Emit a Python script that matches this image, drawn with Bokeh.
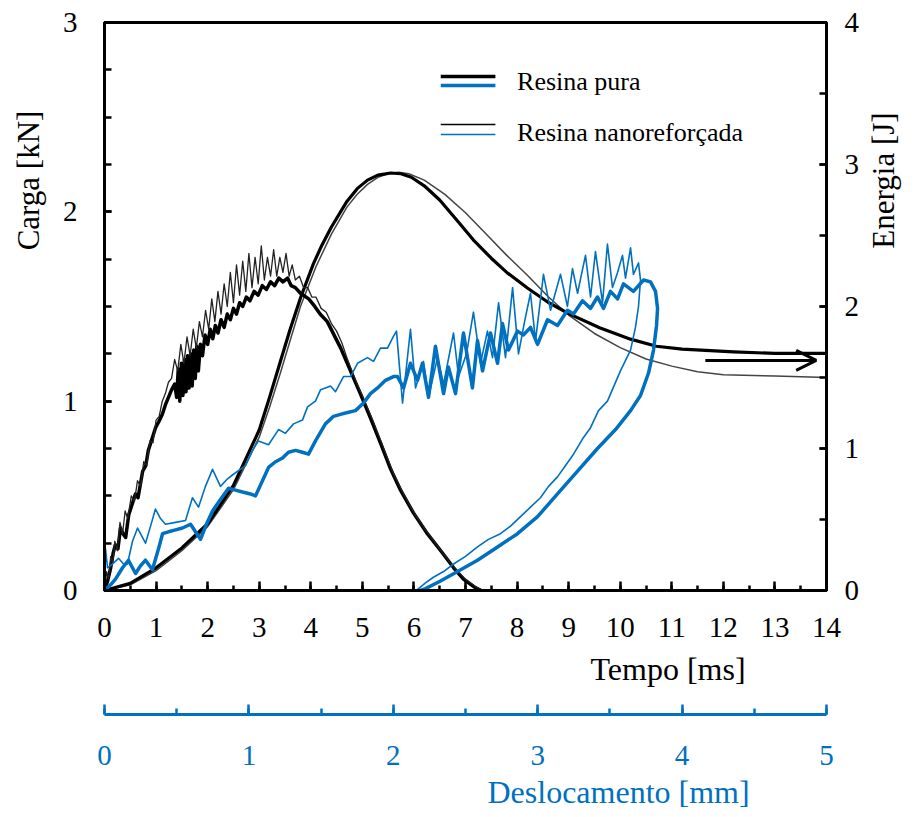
from bokeh.plotting import figure
from bokeh.layouts import column
from bokeh.models import (Range1d, LinearAxis, Label, Title, Arrow, OpenHead,
                          SingleIntervalTicker)
from bokeh.embed import file_html
from bokeh.resources import INLINE

BLUE = "#0070C0"
FONT = "Liberation Serif"

# ---- Carga x Tempo, resina pura ----
t_load_pura = [0.00, 0.06, 0.12, 0.17, 0.21, 0.26, 0.31, 0.36, 0.41, 0.47, 0.53, 0.60, 0.65,
               0.74, 0.80, 0.85, 0.92, 0.99, 1.05, 1.12, 1.18, 1.24, 1.30, 1.36, 1.40, 1.43,
               1.46, 1.49, 1.52, 1.55, 1.58, 1.61, 1.64, 1.67, 1.70, 1.73, 1.76, 1.79, 1.82,
               1.86, 1.90, 1.95, 2.00, 2.05, 2.10, 2.15, 2.20, 2.26, 2.32, 2.38, 2.44, 2.50,
               2.56, 2.62, 2.68, 2.75, 2.82, 2.90, 2.98, 3.06, 3.14, 3.22, 3.30, 3.38, 3.46,
               3.55, 3.62, 3.70, 3.80, 3.96, 4.05, 4.18, 4.32, 4.45, 4.58, 4.77, 4.96, 5.16,
               5.35, 5.55, 5.74, 5.99, 6.26, 6.52, 6.77, 6.96, 7.16, 7.30]
f_load_pura = [0.00, 0.05, 0.12, 0.20, 0.24, 0.22, 0.33, 0.30, 0.28, 0.40, 0.45, 0.51, 0.49,
               0.63, 0.66, 0.74, 0.80, 0.86, 0.89, 0.93, 0.98, 1.02, 1.06, 1.09, 1.02, 1.17,
               1.00, 1.20, 1.03, 1.22, 1.05, 1.24, 1.07, 1.25, 1.08, 1.27, 1.12, 1.29, 1.16,
               1.30, 1.24, 1.35, 1.30, 1.38, 1.33, 1.40, 1.36, 1.43, 1.39, 1.46, 1.43, 1.49,
               1.46, 1.52, 1.50, 1.55, 1.53, 1.58, 1.56, 1.61, 1.59, 1.63, 1.61, 1.65, 1.63,
               1.65, 1.61, 1.60, 1.57, 1.54, 1.51, 1.46, 1.42, 1.35, 1.28, 1.16, 1.04, 0.91,
               0.78, 0.64, 0.53, 0.41, 0.30, 0.21, 0.12, 0.06, 0.02, 0.00]

# ---- Carga x Tempo, resina nanoreforcada ----
t_load_nano = [0.00, 0.04, 0.08, 0.12, 0.16, 0.20, 0.25, 0.30, 0.35, 0.40, 0.45, 0.52, 0.58,
               0.64, 0.70, 0.76, 0.82, 0.88, 0.94, 1.00, 1.06, 1.12, 1.18, 1.24, 1.30, 1.36,
               1.42, 1.48, 1.54, 1.60, 1.66, 1.72, 1.78, 1.84, 1.90, 1.96, 2.02, 2.08, 2.14,
               2.20, 2.26, 2.32, 2.38, 2.44, 2.50, 2.56, 2.62, 2.68, 2.74, 2.80, 2.86, 2.92,
               2.98, 3.04, 3.10, 3.16, 3.22, 3.28, 3.34, 3.40, 3.46, 3.52, 3.58, 3.64, 3.70,
               3.78, 3.86, 3.94, 4.02, 4.10, 4.20, 4.30, 4.40, 4.50, 4.60, 4.70, 4.80, 4.90,
               5.00, 5.20, 5.40, 5.60, 5.80, 6.00, 6.25, 6.50, 6.75, 7.00, 7.20, 7.35]
f_load_nano = [0.00, 0.10, 0.06, 0.18, 0.14, 0.26, 0.21, 0.36, 0.30, 0.42, 0.38, 0.50, 0.47,
               0.58, 0.55, 0.68, 0.66, 0.79, 0.78, 0.90, 0.92, 1.00, 1.04, 1.10, 1.12, 1.22,
               1.16, 1.30, 1.20, 1.34, 1.24, 1.38, 1.28, 1.42, 1.34, 1.48, 1.38, 1.54, 1.42,
               1.58, 1.46, 1.62, 1.50, 1.68, 1.52, 1.72, 1.56, 1.74, 1.58, 1.78, 1.60, 1.76,
               1.62, 1.82, 1.64, 1.76, 1.66, 1.80, 1.66, 1.76, 1.68, 1.78, 1.66, 1.72, 1.64,
               1.66, 1.60, 1.60, 1.55, 1.55, 1.49, 1.47, 1.41, 1.37, 1.31, 1.23, 1.16, 1.09,
               1.03, 0.90, 0.76, 0.62, 0.51, 0.41, 0.31, 0.22, 0.13, 0.06, 0.02, 0.00]

# ---- Energia x Tempo ----
t_energia_pura = [0.0, 0.5, 1.0, 1.5, 2.0, 2.5, 3.0, 3.2, 3.4, 3.6, 3.8, 4.05, 4.2, 4.4, 4.7,
                  4.9, 5.1, 5.3, 5.55, 5.75, 5.95, 6.2, 6.5, 6.85, 7.15, 7.5, 7.8, 8.2, 8.6,
                  9.0, 9.6, 10.2, 10.7, 11.2, 12.2, 13.0, 14.0]
e_energia_pura = [0.00, 0.05, 0.16, 0.30, 0.47, 0.74, 1.13, 1.36, 1.60, 1.84, 2.06, 2.30, 2.42,
                  2.56, 2.74, 2.83, 2.89, 2.925, 2.94, 2.935, 2.91, 2.85, 2.75, 2.60, 2.47,
                  2.34, 2.24, 2.13, 2.03, 1.95, 1.85, 1.77, 1.72, 1.70, 1.68, 1.67, 1.67]
t_energia_nano = [0.0, 0.5, 1.0, 1.5, 2.0, 2.5, 3.0, 3.2, 3.4, 3.6, 3.8, 4.1, 4.4, 4.7, 4.9,
                  5.1, 5.3, 5.5, 5.7, 5.9, 6.2, 6.6, 7.0, 7.4, 7.8, 8.2, 8.6, 9.0, 9.5, 10.0,
                  10.5, 11.0, 11.5, 12.0, 13.0, 14.0]
e_energia_nano = [0.00, 0.04, 0.14, 0.28, 0.45, 0.71, 1.08, 1.29, 1.52, 1.76, 2.00, 2.28, 2.51,
                  2.70, 2.79, 2.86, 2.91, 2.935, 2.945, 2.935, 2.89, 2.79, 2.66, 2.51, 2.36,
                  2.22, 2.07, 1.94, 1.81, 1.71, 1.63, 1.58, 1.54, 1.52, 1.51, 1.50]

# ---- Carga x Deslocamento ----
d_desl_pura = [0.000, 0.042, 0.076, 0.125, 0.166, 0.215, 0.249, 0.284, 0.332, 0.374, 0.402,
               0.443, 0.492, 0.540, 0.596, 0.630, 0.665, 0.706, 0.748, 0.803, 0.859, 0.907,
               0.956, 1.011, 1.046, 1.094, 1.136, 1.184, 1.233, 1.274, 1.323, 1.371, 1.413,
               1.468, 1.530, 1.586, 1.634, 1.683, 1.738, 1.794, 1.842, 1.891, 1.946, 2.001,
               2.029, 2.071, 2.119, 2.168, 2.202, 2.244, 2.292, 2.348, 2.382, 2.431, 2.486,
               2.548, 2.583, 2.618, 2.673, 2.722, 2.756, 2.798, 2.860, 2.902, 2.950, 2.999,
               3.068, 3.137, 3.206, 3.248, 3.310, 3.366, 3.414, 3.456, 3.504, 3.553, 3.594,
               3.663, 3.733, 3.781, 3.816, 3.830, 3.823, 3.802, 3.768, 3.712, 3.643, 3.539,
               3.414, 3.276, 3.137, 2.999, 2.860, 2.722, 2.583, 2.445, 2.327, 2.223, 2.188]
f_desl_pura = [0.00, 0.03, 0.06, 0.12, 0.16, 0.09, 0.13, 0.16, 0.11, 0.22, 0.30, 0.31, 0.32,
               0.33, 0.35, 0.31, 0.27, 0.35, 0.42, 0.48, 0.54, 0.53, 0.52, 0.51, 0.50, 0.58,
               0.65, 0.68, 0.70, 0.73, 0.74, 0.73, 0.72, 0.80, 0.88, 0.92, 0.93, 0.94, 0.95,
               0.99, 1.04, 1.07, 1.11, 1.13, 1.13, 1.07, 1.20, 1.11, 1.20, 1.02, 1.29, 1.04,
               1.18, 1.04, 1.36, 1.07, 1.32, 1.16, 1.36, 1.20, 1.41, 1.27, 1.37, 1.35, 1.39,
               1.30, 1.43, 1.40, 1.48, 1.46, 1.53, 1.49, 1.55, 1.49, 1.58, 1.54, 1.62, 1.58,
               1.64, 1.63, 1.58, 1.49, 1.40, 1.27, 1.15, 1.03, 0.95, 0.85, 0.75, 0.63, 0.51,
               0.39, 0.30, 0.23, 0.16, 0.10, 0.05, 0.01, 0.00]

d_desl_nano = [0.000, 0.007, 0.021, 0.055, 0.097, 0.132, 0.159, 0.194, 0.229, 0.284, 0.319,
               0.353, 0.388, 0.422, 0.492, 0.561, 0.609, 0.651, 0.699, 0.748, 0.803, 0.852,
               0.886, 0.976, 1.025, 1.066, 1.136, 1.205, 1.253, 1.309, 1.371, 1.406, 1.461,
               1.496, 1.530, 1.565, 1.600, 1.655, 1.704, 1.752, 1.821, 1.863, 1.911, 1.960,
               1.999, 2.022, 2.064, 2.119, 2.154, 2.209, 2.244, 2.306, 2.348, 2.417, 2.452,
               2.507, 2.555, 2.604, 2.652, 2.687, 2.729, 2.777, 2.826, 2.867, 2.909, 2.950,
               2.985, 3.040, 3.089, 3.158, 3.206, 3.241, 3.276, 3.331, 3.366, 3.400, 3.449,
               3.483, 3.518, 3.553, 3.587, 3.608, 3.643, 3.663, 3.698, 3.712, 3.698, 3.677,
               3.643, 3.573, 3.483, 3.421, 3.366, 3.310, 3.248, 3.193, 3.137, 3.075, 3.019,
               2.950, 2.881, 2.812, 2.742, 2.659, 2.583, 2.500, 2.417, 2.348, 2.278, 2.223,
               2.175, 2.154]
f_desl_nano = [0.00, 0.22, 0.12, 0.14, 0.17, 0.14, 0.14, 0.26, 0.33, 0.25, 0.34, 0.43, 0.38,
               0.35, 0.36, 0.37, 0.49, 0.44, 0.55, 0.64, 0.55, 0.59, 0.61, 0.66, 0.74, 0.79,
               0.77, 0.85, 0.83, 0.88, 0.90, 0.97, 1.00, 1.06, 1.07, 1.08, 1.05, 1.13, 1.13,
               1.20, 1.23, 1.21, 1.28, 1.28, 1.34, 1.37, 0.99, 1.38, 1.07, 1.21, 1.02, 1.23,
               1.09, 1.36, 1.13, 1.25, 1.47, 1.20, 1.37, 1.23, 1.52, 1.23, 1.60, 1.25, 1.42,
               1.57, 1.32, 1.67, 1.48, 1.67, 1.50, 1.70, 1.57, 1.77, 1.55, 1.79, 1.52, 1.83,
               1.60, 1.68, 1.77, 1.65, 1.81, 1.67, 1.73, 1.64, 1.50, 1.39, 1.27, 1.16, 1.00,
               0.95, 0.86, 0.80, 0.72, 0.66, 0.60, 0.55, 0.49, 0.44, 0.39, 0.34, 0.30, 0.27,
               0.23, 0.18, 0.14, 0.10, 0.07, 0.04, 0.01, 0.00]

# axis extents
tempo_max, carga_max, energia_max, desl_max = 14, 3, 4, 5

# main chart
p = figure(width=919, height=700, x_range=Range1d(0, tempo_max), y_range=Range1d(0, carga_max),
           output_backend="svg", toolbar_location=None,
           min_border_left=104, min_border_right=93, min_border_top=22, min_border_bottom=110)
p.extra_y_ranges = {"energia": Range1d(0, energia_max)}
p.grid.visible = False
p.outline_line_color = "black"
p.outline_line_width = 3
p.background_fill_color = "white"
p.border_fill_color = "white"


def style_axis(ax, color, major_in, minor_in, standoff):
    ax.axis_line_color = color
    ax.axis_line_width = 3
    ax.major_tick_line_color = color
    ax.minor_tick_line_color = color
    ax.major_tick_line_width = 2.5
    ax.minor_tick_line_width = 2.5
    ax.major_tick_in = major_in
    ax.major_tick_out = 0
    ax.minor_tick_in = minor_in
    ax.minor_tick_out = 0
    ax.major_label_text_font = FONT
    ax.major_label_text_font_size = "29px"
    ax.major_label_text_color = color
    ax.major_label_standoff = standoff


# bottom time axis
xax = p.xaxis[0]
xax.ticker = SingleIntervalTicker(interval=1, num_minor_ticks=2)
style_axis(xax, "black", 9, 5, 27)

# left load axis
yax = p.yaxis[0]
yax.ticker = SingleIntervalTicker(interval=1, num_minor_ticks=4)
style_axis(yax, "black", 7, 7, 27)

# right energy axis
eax = LinearAxis(y_range_name="energia", ticker=SingleIntervalTicker(interval=1, num_minor_ticks=2))
style_axis(eax, "black", 7, 7, 18)
p.add_layout(eax, "right")

# time axis title
p.add_layout(Title(text="Tempo [ms]", align="left", offset=486, vertical_align="top",
                   text_font=FONT, text_font_size="32px", text_font_style="normal",
                   text_color="black", standoff=22), "below")

# vertical axis titles, placed in the side panels
p.add_layout(Label(x=4, y=410, x_units="screen", y_units="screen", text="Carga [kN]",
                   angle=90, angle_units="deg", text_align="center", text_baseline="middle",
                   text_font=FONT, text_font_size="31px", text_color="black"), "left")
p.add_layout(Label(x=21, y=410, x_units="screen", y_units="screen", text="Energia [J]",
                   angle=90, angle_units="deg", text_align="center", text_baseline="middle",
                   text_font=FONT, text_font_size="31px", text_color="black"), "right")

# energy curves
p.line(t_energia_nano, e_energia_nano, y_range_name="energia", line_color="#444444",
       line_width=1.5, line_join="round")
p.line(t_energia_pura, e_energia_pura, y_range_name="energia", line_color="black",
       line_width=3.2, line_join="round")

# load-time curves
p.line(t_load_pura, f_load_pura, line_color="black", line_width=3.5, line_join="round")
p.line(t_load_nano, f_load_nano, line_color="#222222", line_width=1.3, line_join="round")

# load-displacement curves on the displacement scale
p.extra_x_ranges = {"desl": Range1d(0, desl_max)}
p.line(d_desl_pura, f_desl_pura, x_range_name="desl", line_color=BLUE, line_width=3.5,
       line_join="round")
p.line(d_desl_nano, f_desl_nano, x_range_name="desl", line_color=BLUE, line_width=1.6,
       line_join="round")

# arrow pointing to the energy axis
p.add_layout(Arrow(x_start=11.65, x_end=13.8, y_start=1.62, y_end=1.62,
                   y_range_name="energia", line_color="black", line_width=3,
                   end=OpenHead(size=20, line_width=3, line_color="black")))

# legend
leg_x0, leg_x1, leg_tx = 6.52, 7.58, 8.0
legend_rows = [
    ("Resina pura", 2.715, 2.667, 3.5, 2.69),
    ("Resina nanoreforçada", 2.461, 2.408, 1.5, 2.42),
]
for name, yb, yl, lw, yt in legend_rows:
    p.line([leg_x0, leg_x1], [yb, yb], line_color="black", line_width=lw)
    p.line([leg_x0, leg_x1], [yl, yl], line_color=BLUE, line_width=lw)
    p.add_layout(Label(x=leg_tx, y=yt, text=name, text_font=FONT, text_font_size="26px",
                       text_baseline="middle", text_align="left", text_color="black"))

# displacement scale, drawn as its own strip under the chart
q = figure(width=919, height=117, x_range=Range1d(0, desl_max), y_range=Range1d(0, 1),
           output_backend="svg", toolbar_location=None, y_axis_location=None,
           min_border_left=104, min_border_right=93, min_border_top=0, min_border_bottom=103)
q.grid.visible = False
q.outline_line_color = None
q.background_fill_color = "white"
q.border_fill_color = "white"
dax = q.xaxis[0]
dax.ticker = SingleIntervalTicker(interval=1, num_minor_ticks=2)
style_axis(dax, BLUE, 10, 6, 31)
q.add_layout(Title(text="Deslocamento [mm]", align="left", offset=383, vertical_align="top",
                   text_font=FONT, text_font_size="32px", text_font_style="normal",
                   text_color=BLUE, standoff=12), "below")

layout = column(p, q, spacing=0)
open("out.html", "w").write(file_html(layout, INLINE))
